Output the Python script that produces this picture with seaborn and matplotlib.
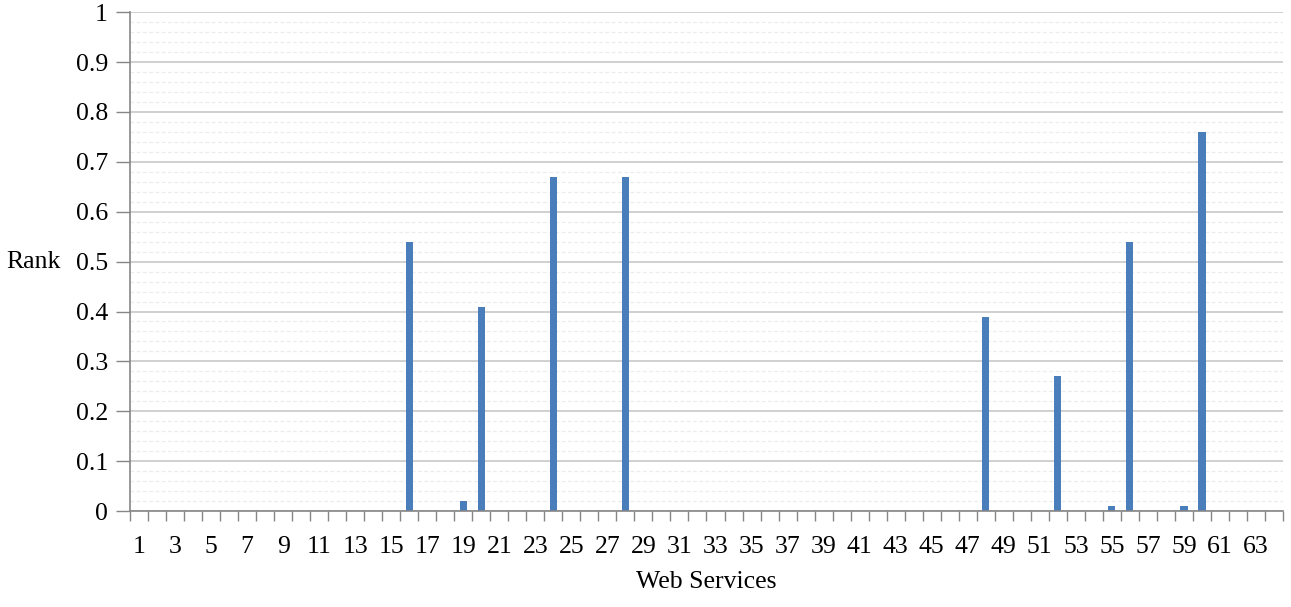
import numpy as np
import pandas as pd
import seaborn as sns
import matplotlib.pyplot as plt
from matplotlib.ticker import MultipleLocator

# web service ids and their rank (zero for most)
services = list(range(1, 65))
ranked_ids = [16, 19, 20, 24, 28, 48, 52, 55, 56, 59, 60]
ranked_vals = [0.54, 0.02, 0.41, 0.67, 0.67, 0.39, 0.27, 0.01, 0.54, 0.01, 0.76]
y_ticks = [0, 0.1, 0.2, 0.3, 0.4, 0.5, 0.6, 0.7, 0.8, 0.9, 1]
y_labels = ["0", "0.1", "0.2", "0.3", "0.4", "0.5", "0.6", "0.7", "0.8", "0.9", "1"]

rank = dict.fromkeys(services, 0.0)
rank.update(zip(ranked_ids, ranked_vals))
df = pd.DataFrame({"service": [str(s) for s in services],
                   "rank": [rank[s] for s in services]})

sns.set_style("white")
plt.rcParams["font.family"] = ["Liberation Serif", "DejaVu Serif"]
plt.rcParams["text.color"] = "black"
plt.rcParams["axes.labelcolor"] = "black"
plt.rcParams["xtick.labelcolor"] = "black"
plt.rcParams["ytick.labelcolor"] = "black"

fig, ax = plt.subplots(figsize=(12.91, 6.07), dpi=100)
fig.subplots_adjust(left=0.1007, right=0.9938, top=0.980, bottom=0.158)

sns.barplot(data=df, x="service", y="rank", color="#4a7ebb", saturation=1,
            width=0.4, linewidth=0, ax=ax)

ax.set_xlim(-0.5, len(services) - 0.5)
ax.set_ylim(0, 1)

# gridlines: solid major, dashed minor
ax.set_yticks(y_ticks)
ax.set_yticklabels(y_labels, fontsize=18.5)
ax.yaxis.set_minor_locator(MultipleLocator(0.02))
ax.grid(axis="y", which="major", color="#c8c8c8", linewidth=1.2, linestyle="-")
ax.grid(axis="y", which="minor", color="#ececec", linewidth=0.9, linestyle=(0, (3, 2)))
ax.set_axisbelow(True)

# x labels at odd services, tick marks between categories
ax.set_xticks(range(0, 64, 2))
ax.set_xticklabels([str(s) for s in services[::2]], fontsize=18.5)
ax.set_xticks(np.arange(-0.5, 64, 1), minor=True)
ax.tick_params(bottom=True, left=True, which="both")
ax.tick_params(axis="x", which="major", length=0, pad=18)
ax.tick_params(axis="x", which="minor", length=7, width=1, color="#868686", direction="out")
ax.tick_params(axis="y", which="major", length=10, width=1, color="#868686", direction="out", pad=6)
ax.tick_params(axis="y", which="minor", length=0)

for side in ["top", "right"]:
    ax.spines[side].set_visible(False)
for side in ["left", "bottom"]:
    ax.spines[side].set_color("#868686")
    ax.spines[side].set_linewidth(1.2)

ax.set_xlabel("Web Services", fontsize=18.5, labelpad=9)
ax.set_ylabel("Rank", fontsize=18.5, rotation=0, labelpad=30, va="center")

fig.savefig("out.png", dpi=100)
